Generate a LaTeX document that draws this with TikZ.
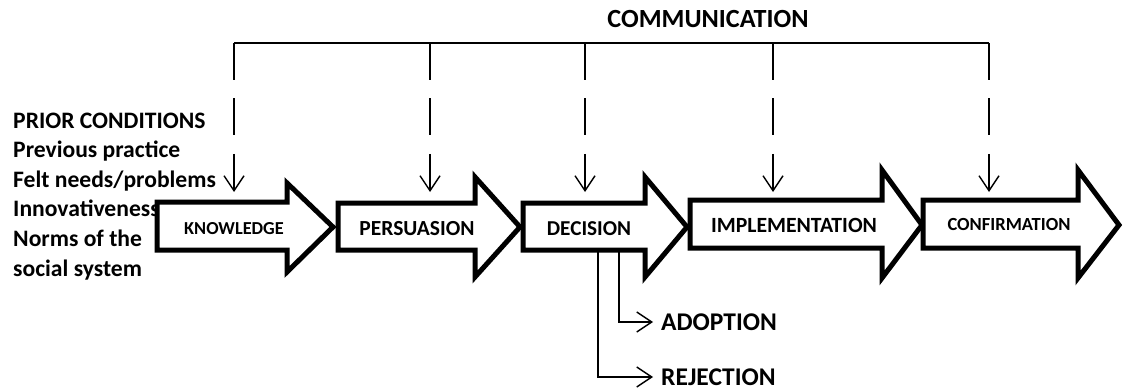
\documentclass[tikz,border=0pt]{standalone}
\usepackage{fontspec}
\setmainfont{Carlito}
\usetikzlibrary{arrows.meta}
\tikzset{
  blockarrow/.style={draw=black, fill=white, line width=5pt, miter limit=20},
  thinline/.style={draw=black, line width=1.4pt},
  commline/.style={thinline, dash pattern=on 37pt off 18.5pt, -{Straight Barb[length=15pt,width=20pt,line width=1.4pt]}},
  branch/.style={thinline, -{Straight Barb[length=15pt,width=20pt,line width=1.4pt]}},
  lbl/.style={font=\bfseries, inner sep=0pt},
}
\begin{document}
\begin{tikzpicture}[x=1pt,y=-1pt]
\useasboundingbox (0,0) rectangle (1126,390);
% prior conditions text (base anchor = baseline of last line)
\node[lbl, anchor=base west, align=left, font=\bfseries\fontsize{23.6}{29.6}\selectfont] (prior) at (13,276)
  {PRIOR CONDITIONS\\Previous practice\\Felt needs/problems\\Innovativeness\\Norms of the\\social system};
% block arrows
\draw[blockarrow] (157,202) -- (287,202) -- (287,183) -- (333,227) -- (287,272) -- (287,250) -- (157,250) -- cycle;
\draw[blockarrow] (338,203) -- (475,203) -- (475,177) -- (520,227) -- (475,277) -- (475,250) -- (338,250) -- cycle;
\draw[blockarrow] (523,203) -- (645,203) -- (645,177) -- (687,227) -- (645,277) -- (645,250) -- (523,250) -- cycle;
\draw[blockarrow] (690,200) -- (882,200) -- (882,170) -- (922,225) -- (882,278) -- (882,248) -- (690,248) -- cycle;
\draw[blockarrow] (923,200) -- (1078,200) -- (1078,170) -- (1119,225) -- (1078,278) -- (1078,248) -- (923,248) -- cycle;
\node[lbl, font=\bfseries\fontsize{18.3}{22}\selectfont] (know) at (234,229) {KNOWLEDGE};
\node[lbl, font=\bfseries\fontsize{21.5}{25}\selectfont] (pers) at (417,229) {PERSUASION};
\node[lbl, font=\bfseries\fontsize{21.2}{25}\selectfont] (deci) at (589,229) {DECISION};
\node[lbl, font=\bfseries\fontsize{21.7}{25}\selectfont] (impl) at (794,225) {IMPLEMENTATION};
\node[lbl, font=\bfseries\fontsize{18.5}{22}\selectfont] (conf) at (1009,224) {CONFIRMATION};
% communication
\node[lbl, font=\bfseries\fontsize{26.2}{30}\selectfont] (comm) at (708,19) {COMMUNICATION};
\coordinate (c1) at (234,43); \coordinate (c2) at (430,43); \coordinate (c3) at (585,43);
\coordinate (c4) at (773,43); \coordinate (c5) at (989,43);
\coordinate (t1) at (234,192); \coordinate (t2) at (430,192); \coordinate (t3) at (585,192);
\coordinate (t4) at (773,192); \coordinate (t5) at (989,192);
\draw[thinline] (c1) -- (c5);
\foreach \i in {1,...,5} \draw[commline] (c\i) -- (t\i);
% outcomes
\node[lbl, anchor=west, font=\bfseries\fontsize{25.5}{30}\selectfont] (adop) at (661,322) {ADOPTION};
\node[lbl, anchor=west, font=\bfseries\fontsize{25.5}{30}\selectfont] (reje) at (661,377) {REJECTION};
\coordinate (d1) at (619,252); \coordinate (d2) at (598,252);
\draw[branch] (d1) |- ([xshift=-8pt]adop.west);
\draw[branch] (d2) |- ([xshift=-8pt]reje.west);
\end{tikzpicture}
\end{document}
